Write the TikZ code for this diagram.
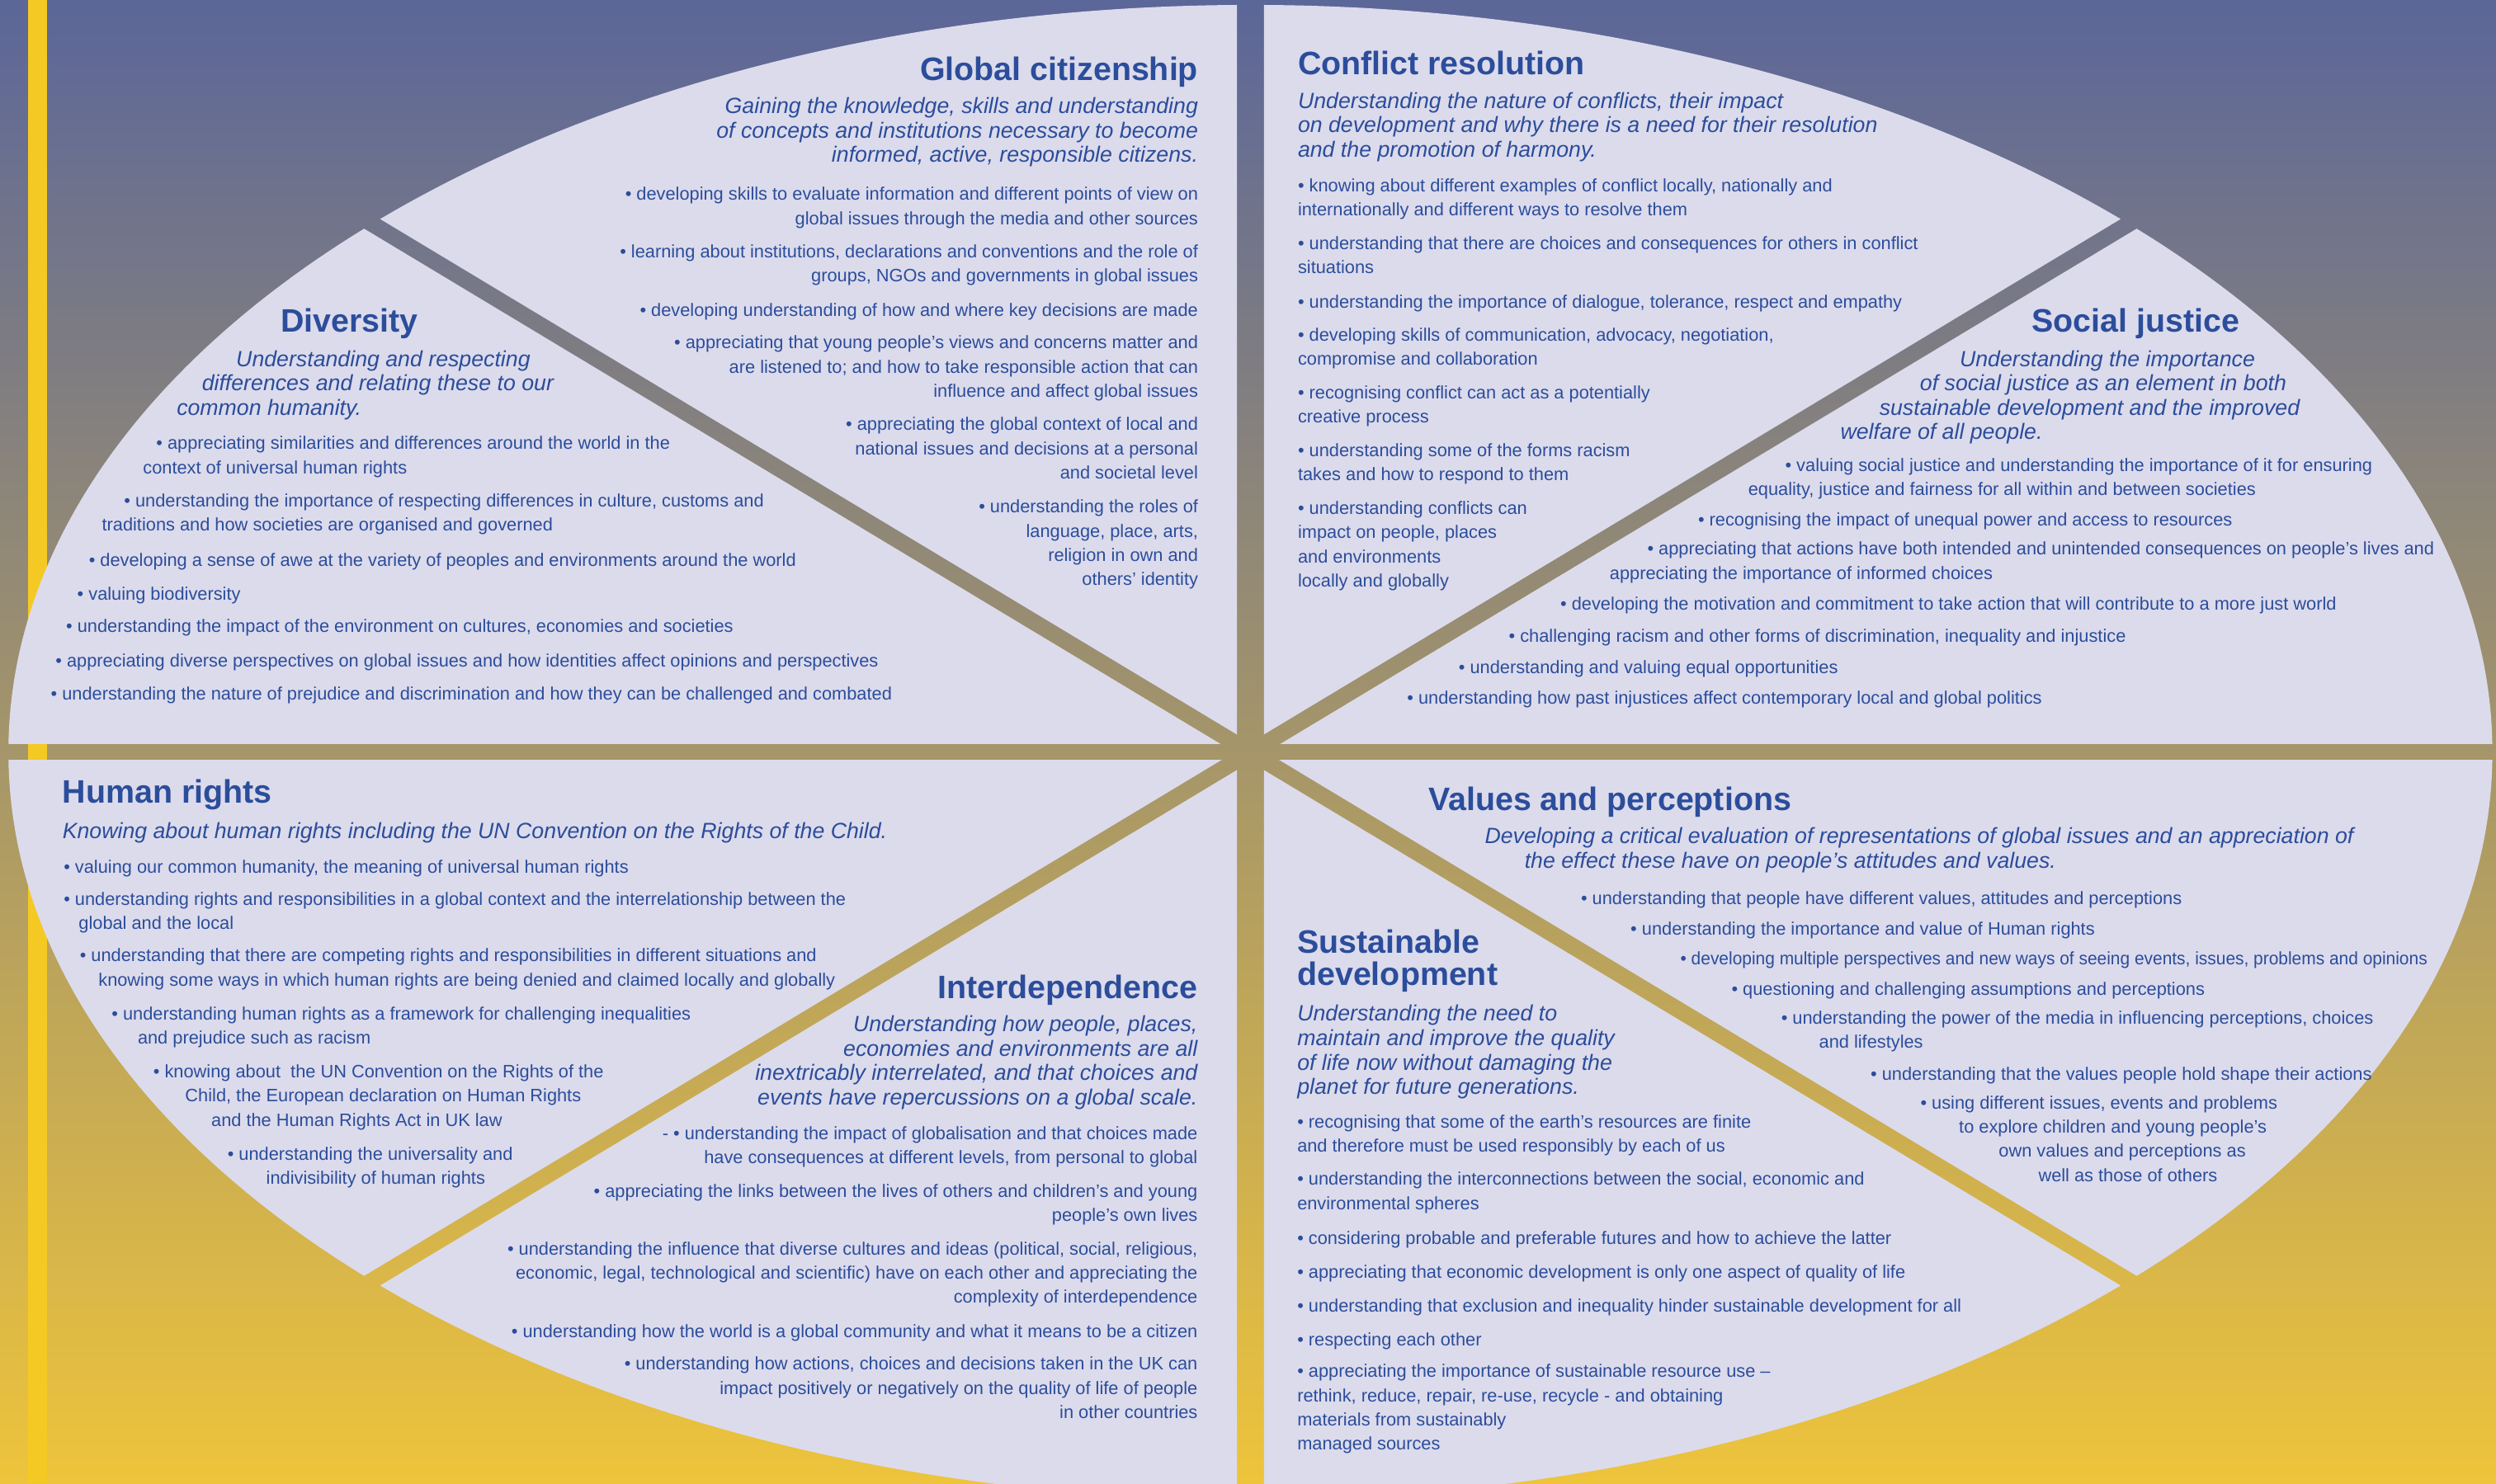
\documentclass[tikz,border=0pt]{standalone}
\usepackage{fontspec}
\setmainfont{Liberation Sans}
\definecolor{bgtop}{HTML}{5B6699}
\definecolor{bgmid}{HTML}{A99382}
\definecolor{bgbot}{HTML}{EEC43B}
\definecolor{stripe}{HTML}{F5C924}
\definecolor{lav}{HTML}{DCDBEC}
\definecolor{tblue}{HTML}{2B4D9B}
\newlength{\myu}\setlength{\myu}{0.019292cm}
\newcommand{\ind}[1]{\hspace*{#1\myu}}
\tikzset{
 ttl/.style={inner sep=0pt, text=tblue, font=\fontsize{11.2}{10.9}\selectfont\bfseries, yshift=9pt, execute at begin node={\rule{0pt}{9pt}}},
 sub/.style={inner sep=0pt, text=tblue, font=\fontsize{7.6}{8.4}\selectfont\itshape, yshift=6.2pt, execute at begin node={\rule{0pt}{6.2pt}}},
 bod/.style={inner sep=0pt, text=tblue, font=\fontsize{6.2}{8.35}\selectfont, yshift=5pt, execute at begin node={\rule{0pt}{5pt}}},
 L/.style={anchor=north west, align=left},
 R/.style={anchor=north east, align=right},
 sector/.style={fill=lav}
}
\newcommand{\ellfill}{\fill[sector] (785.5,472.7) ellipse [x radius=15.048cm, y radius=9.0576cm];}
\newcommand{\VL}{\clip (-3000,-3000) rectangle (777,4000);}
\newcommand{\VR}{\clip (794,-3000) rectangle (4000,4000);}
\newcommand{\HT}{\clip (-3000,-3000) rectangle (4000,467.5);}
\newcommand{\HB}{\clip (-3000,477.9) rectangle (4000,4000);}
\newcommand{\AOne}{\clip[rotate around={-31.04:(785.5,472.7)}] (-2500,467.5) rectangle (4000,-3000);}
\newcommand{\BOne}{\clip[rotate around={-31.04:(785.5,472.7)}] (-2500,477.9) rectangle (4000,4000);}
\newcommand{\ATwo}{\clip[rotate around={31.04:(785.5,472.7)}] (-2500,467.5) rectangle (4000,-3000);}
\newcommand{\BTwo}{\clip[rotate around={31.04:(785.5,472.7)}] (-2500,477.9) rectangle (4000,4000);}
\begin{document}
\begin{tikzpicture}[x=0.019292cm, y=-0.019292cm]
\useasboundingbox (0,0) rectangle (1568,932);
\shade[top color=bgtop, middle color=bgmid, bottom color=bgbot] (0,0) rectangle (1568,932);
\fill[stripe] (17.6,0) rectangle (29.5,932);
% eight sectors of the ellipse
\begin{scope}\VL\AOne\ellfill\end{scope}
\begin{scope}\VR\ATwo\ellfill\end{scope}
\begin{scope}\HT\BTwo\ellfill\end{scope}
\begin{scope}\HB\AOne\ellfill\end{scope}
\begin{scope}\VR\BOne\ellfill\end{scope}
\begin{scope}\VL\BTwo\ellfill\end{scope}
\begin{scope}\HB\ATwo\ellfill\end{scope}
\begin{scope}\HT\BOne\ellfill\end{scope}

% Global citizenship
\node[ttl,R] (gct) at (753,50) {Global citizenship};
\node[sub,R] (gcs) at (753,72.3) {Gaining the knowledge, skills and understanding\\of concepts and institutions necessary to become\\informed, active, responsible citizens.};
\node[bod,R] (gc1) at (753,126.5) {• developing skills to evaluate information and different points of view on\\global issues through the media and other sources};
\node[bod,R] (gc2) at (753,162.5) {• learning about institutions, declarations and conventions and the role of\\groups, NGOs and governments in global issues};
\node[bod,R] (gc3) at (753,198.6) {• developing understanding of how and where key decisions are made};
\node[bod,R] (gc4) at (753,219.7) {• appreciating that young people’s views and concerns matter and\\are listened to; and how to take responsible action that can\\influence and affect global issues};
\node[bod,R] (gc5) at (753,271.1) {• appreciating the global context of local and\\national issues and decisions at a personal\\and societal level};
\node[bod,R] (gc6) at (753,322.9) {• understanding the roles of\\language, place, arts,\\religion in own and\\others’ identity};

% Conflict resolution
\node[ttl,L] (crt) at (815,46.7) {Conflict resolution};
\node[sub,L] (crs) at (815,69) {Understanding the nature of conflicts, their impact\\on development and why there is a need for their resolution\\and the promotion of harmony.};
\node[bod,L] (cr1) at (815,120.9) {• knowing about different examples of conflict locally, nationally and\\internationally and different ways to resolve them};
\node[bod,L] (cr2) at (815,157.3) {• understanding that there are choices and consequences for others in conflict\\situations};
\node[bod,L] (cr3) at (815,193.3) {• understanding the importance of dialogue, tolerance, respect and empathy};
\node[bod,L] (cr4) at (815,214.9) {• developing skills of communication, advocacy, negotiation,\\compromise and collaboration};
\node[bod,L] (cr5) at (815,251.2) {• recognising conflict can act as a potentially\\creative process};
\node[bod,L] (cr6) at (815,287.5) {• understanding some of the forms racism\\takes and how to respond to them};
\node[bod,L] (cr7) at (815,323.7) {• understanding conflicts can\\impact on people, places\\and environments\\locally and globally};

% Diversity
\node[ttl,L] (dvt) at (176.1,208.3) {Diversity};
\node[sub,L] (dvs) at (110.7,231.2) {\ind{37.3}Understanding and respecting\\\ind{15.8}differences and relating these to our\\common humanity.};
\node[bod,L] (dv1) at (89.5,282.9) {\ind{8.3}• appreciating similarities and differences around the world in the\\context of universal human rights};
\node[bod,L] (dv2) at (63.7,318.9) {\ind{13.9}• understanding the importance of respecting differences in culture, customs and\\traditions and how societies are organised and governed};
\node[bod,L] (dv3) at (55.5,355.5) {• developing a sense of awe at the variety of peoples and environments around the world};
\node[bod,L] (dv4) at (48.2,376.6) {• valuing biodiversity};
\node[bod,L] (dv5) at (41.2,397) {• understanding the impact of the environment on cultures, economies and societies};
\node[bod,L] (dv6) at (34.6,418.5) {• appreciating diverse perspectives on global issues and how identities affect opinions and perspectives};
\node[bod,L] (dv7) at (31.6,439.6) {• understanding the nature of prejudice and discrimination and how they can be challenged and combated};

% Social justice
\node[ttl,L] (sjt) at (1276,208.3) {Social justice};
\node[sub,L] (sjs) at (1155.8,231.2) {\ind{74.9}Understanding the importance\\\ind{50}of social justice as an element in both\\\ind{24.5}sustainable development and the improved\\welfare of all people.};
\node[bod,L] (sj1) at (1097.9,296.7) {\ind{23.2}• valuing social justice and understanding the importance of it for ensuring\\equality, justice and fairness for all within and between societies};
\node[bod,L] (sj2) at (1066.4,329.9) {• recognising the impact of unequal power and access to resources};
\node[bod,L] (sj3) at (1010.9,349.4) {\ind{23.6}• appreciating that actions have both intended and unintended consequences on people’s lives and\\appreciating the importance of informed choices};
\node[bod,L] (sj4) at (979.9,383.1) {• developing the motivation and commitment to take action that will contribute to a more just world};
\node[bod,L] (sj5) at (947.5,403) {• challenging racism and other forms of discrimination, inequality and injustice};
\node[bod,L] (sj6) at (916,422.9) {• understanding and valuing equal opportunities};
\node[bod,L] (sj7) at (883.6,442.2) {• understanding how past injustices affect contemporary local and global politics};

% Human rights
\node[ttl,L] (hrt) at (38.9,504.4) {Human rights};
\node[sub,L] (hrs) at (38.9,526.6) {Knowing about human rights including the UN Convention on the Rights of the Child.};
\node[bod,L] (hr1) at (39.7,548.3) {• valuing our common humanity, the meaning of universal human rights};
\node[bod,L] (hr2) at (39.7,569.2) {• understanding rights and responsibilities in a global context and the interrelationship between the\\\ind{9.4}global and the local};
\node[bod,L] (hr3) at (49.8,604.8) {• understanding that there are competing rights and responsibilities in different situations and\\\ind{11.7}knowing some ways in which human rights are being denied and claimed locally and globally};
\node[bod,L] (hr4) at (69.8,641.4) {• understanding human rights as a framework for challenging inequalities\\\ind{16.4}and prejudice such as racism};
\node[bod,L] (hr5) at (96,677.7) {• knowing about~ the UN Convention on the Rights of the\\\ind{20}Child, the European declaration on Human Rights\\\ind{36.4}and the Human Rights Act in UK law};
\node[bod,L] (hr6) at (142.6,729.4) {• understanding the universality and\\\ind{24.3}indivisibility of human rights};

% Interdependence
\node[ttl,R] (idt) at (752.7,627) {Interdependence};
\node[sub,R] (ids) at (752.7,649.2) {Understanding how people, places,\\economies and environments are all\\inextricably interrelated, and that choices and\\events have repercussions on a global scale.};
\node[bod,R] (id1) at (752.7,716.5) {- • understanding the impact of globalisation and that choices made\\have consequences at different levels, from personal to global};
\node[bod,R] (id2) at (752.7,752.9) {• appreciating the links between the lives of others and children’s and young\\people’s own lives};
\node[bod,R] (id3) at (752.7,789) {• understanding the influence that diverse cultures and ideas (political, social, religious,\\economic, legal, technological and scientific) have on each other and appreciating the\\complexity of interdependence};
\node[bod,R] (id4) at (752.7,840.3) {• understanding how the world is a global community and what it means to be a citizen};
\node[bod,R] (id5) at (752.7,861.4) {• understanding how actions, choices and decisions taken in the UK can\\impact positively or negatively on the quality of life of people\\in other countries};

% Values and perceptions
\node[ttl,L] (vpt) at (897,508.9) {Values and perceptions};
\node[sub,L] (vps) at (932.4,530.9) {Developing a critical evaluation of representations of global issues and an appreciation of\\\ind{25}the effect these have on people’s attitudes and values.};
\node[bod,L] (vp1) at (992.8,568) {• understanding that people have different values, attitudes and perceptions};
\node[bod,L] (vp2) at (1024,587) {• understanding the importance and value of Human rights};
\node[bod,L] (vp3) at (1055.3,606) {\scalebox{0.96}[1]{• developing multiple perspectives and new ways of seeing events, issues, problems and opinions}};
\node[bod,L] (vp4) at (1087.4,625) {• questioning and challenging assumptions and perceptions};
\node[bod,L] (vp5) at (1118.6,644) {• understanding the power of the media in influencing perceptions, choices\\\ind{23.8}and lifestyles};
\node[bod,L] (vp6) at (1174.8,678.6) {• understanding that the values people hold shape their actions};
\node[bod,L] (vp7) at (1206.1,697.3) {• using different issues, events and problems\\\ind{24.2}to explore children and young people’s\\\ind{49.2}own values and perceptions as\\\ind{74.1}well as those of others};

% Sustainable development
\node[ttl,L] (sdt) at (814.6,600.3) {Sustainable\\development};
\node[sub,L] (sds) at (814.6,642.6) {Understanding the need to\\maintain and improve the quality\\of life now without damaging the\\planet for future generations.};
\node[bod,L] (sd1) at (814.6,709.2) {• recognising that some of the earth’s resources are finite\\and therefore must be used responsibly by each of us};
\node[bod,L] (sd2) at (814.6,745.4) {• understanding the interconnections between the social, economic and\\environmental spheres};
\node[bod,L] (sd3) at (814.6,781.8) {• considering probable and preferable futures and how to achieve the latter};
\node[bod,L] (sd4) at (814.6,802.7) {• appreciating that economic development is only one aspect of quality of life};
\node[bod,L] (sd5) at (814.6,824.1) {• understanding that exclusion and inequality hinder sustainable development for all};
\node[bod,L] (sd6) at (814.6,845.2) {• respecting each other};
\node[bod,L] (sd7) at (814.6,866.1) {• appreciating the importance of sustainable resource use –\\rethink, reduce, repair, re-use, recycle - and obtaining\\materials from sustainably\\managed sources};
\end{tikzpicture}
\end{document}
